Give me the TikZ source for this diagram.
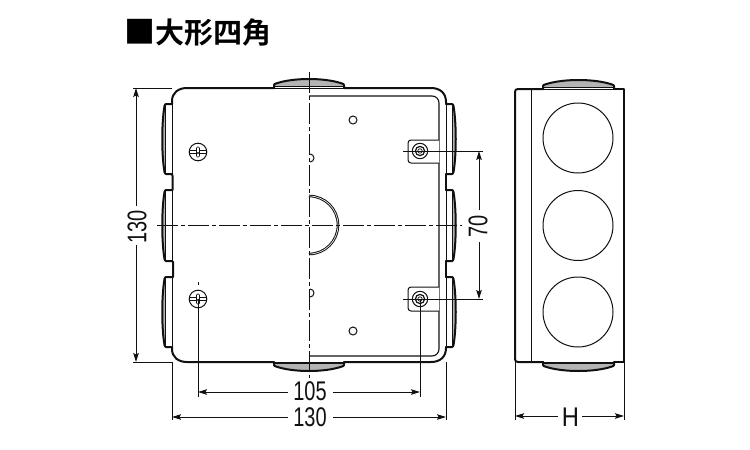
\documentclass[tikz,border=0pt]{standalone}
\usepackage{fontspec}
\usetikzlibrary{arrows.meta}
\newfontfamily\cjkbold{Noto Sans CJK JP Bold}
\newfontfamily\numfont[FakeStretch=0.74]{Liberation Sans}
\newfontfamily\letterfont[FakeStretch=0.88]{Liberation Sans}
\definecolor{ink}{HTML}{111111}
\definecolor{lugband}{HTML}{B4B4B4}
\tikzset{
  wall/.style={line width=2pt,draw=ink,line cap=round,line join=round},
  thin line/.style={line width=1pt,draw=ink},
  fine/.style={line width=1pt,draw=ink},
  centre line/.style={line width=1pt,draw=ink,dash pattern=on 21pt off 3pt on 4pt off 3pt},
  dimline/.style={line width=1pt,draw=ink,-{Stealth[length=9pt,width=5.5pt,inset=1.5pt]}},
  extline/.style={line width=1pt,draw=ink},
  dimtext/.style={font=\numfont\fontsize{27}{27}\selectfont,text=ink,inner sep=0pt},
  titletext/.style={anchor=west,inner sep=0pt,text=black},
}
% lug: x, y of base centre, rotation, half length, end height, band height
\newcommand{\lug}[6]{%
  \begin{scope}[shift={(#1,#2)},rotate=#3]
    \fill[lugband] (-#4,0) -- (-#4,-#5) .. controls ({-0.45*#4},-10.5) and ({0.45*#4},-10.5) .. (#4,-#5) -- (#4,0) -- cycle;
    \fill[white] (-#4,0) rectangle (#4,-#6);
    \draw[thin line] (-#4+1,-#6) -- (#4-1,-#6);
    \draw[wall,fill=none] (-#4,0) -- (-#4,{-#5+1}) .. controls (-#4,-#5) and (-#4+1,-#5) .. (-#4+2,{-#5-0.5}) .. controls ({-0.45*#4},-10.5) and ({0.45*#4},-10.5) .. (#4-2,{-#5-0.5}) .. controls (#4-1,-#5) and (#4,-#5) .. (#4,{-#5+1}) -- (#4,0);
  \end{scope}}
\newcommand{\screw}[2]{%
  \begin{scope}[shift={(#1,#2)}]
    \draw[thin line,fill=white] (0,0) circle[radius=8.8pt];
    \draw[fine,line width=0.7pt] (-8.5,-1.2) -- (-1.5,-1.2) (1.5,-1.2) -- (8.5,-1.2) (-8.5,1.2) -- (-1.5,1.2) (1.5,1.2) -- (8.5,1.2);
    \draw[fine,line width=0.7pt,rounded corners=1pt] (-1.5,-5) rectangle (1.5,5);
    \fill[ink] (0,1) circle[radius=1.1pt];
  \end{scope}}
\newcommand{\anchorhole}[2]{%
  \begin{scope}[shift={(#1,#2)}]
    \draw[thin line] (0,0) circle[radius=7.7pt];
    \draw[line width=1.2pt,draw=ink] (0,0) circle[radius=4.6pt];
    \draw[line width=0.7pt,draw=ink] (0,0) circle[radius=2.2pt];
  \end{scope}}
\begin{document}
\begin{tikzpicture}[x=1pt,y=-1pt]
\useasboundingbox (0,0) rectangle (750,450);
\fill[white] (0,0) rectangle (750,450);

% ---- title
\node[titletext,font=\cjkbold] (title) at (124,33) {\fontsize{31}{31}\selectfont ■\fontsize{29}{29}\selectfont 大形四角};

% ---- plan view: lugs
\lug{309}{88}{0}{35}{4}{1.5}
\lug{309}{362}{180}{35}{4}{1.5}
\lug{172}{139}{90}{35}{7}{6.5}
\lug{172}{225.5}{90}{35.5}{7}{6.5}
\lug{172}{312}{90}{35}{7}{6.5}
\lug{446}{139}{-90}{35}{7}{6.5}
\lug{446}{225.5}{-90}{35.5}{7}{6.5}
\lug{446}{312}{-90}{35}{7}{6.5}

% ---- plan view: walls
\draw[thin line] (172,104) -- (172,347) (446,104) -- (446,347) (274,88) -- (344,88) (274,362) -- (344,362);
\draw[wall] (172,104) -- (172,101) .. controls (172,93) and (178,88) .. (187,88) -- (274,88);
\draw[wall] (344,88) -- (431,88) .. controls (440,88) and (446,93) .. (446,102) -- (446,104);
\draw[wall] (172,347) -- (172,349) .. controls (172,357) and (178,362) .. (187,362) -- (274,362);
\draw[wall] (344,362) -- (431,362) .. controls (440,362) and (446,357) .. (446,348) -- (446,347);
\draw[wall] (172,174) -- (172.5,176) -- (172.5,190);
\draw[wall] (172,261) -- (173,262) -- (173,277);
\draw[wall] (446,174) -- (446,190) (446,261) -- (446,277);

% ---- plan view: inner opening, right half
\draw[line width=1.1pt,draw=ink,rounded corners=7pt] (309,96) -- (439,96) -- (439,356) -- (309,356);

% brackets
\draw[thin line,fill=white,rounded corners=3pt] (439,140) -- (408,140) -- (408,163) -- (439,163);
\draw[thin line,fill=white,rounded corners=3pt] (439,287) -- (408,287) -- (408,311) -- (439,311);
\anchorhole{420}{151}
\anchorhole{420}{299}

% holes
\draw[thin line] (353,120) circle[radius=4pt];
\draw[thin line] (353,331) circle[radius=4pt];
\draw[fine] (310,154) arc[start angle=90,end angle=-90,radius=4pt];
\draw[fine] (310,289) arc[start angle=90,end angle=-90,radius=4pt];

% central knockout
\draw[line width=2.6pt,draw=ink] (309,196) arc[start angle=90,end angle=-90,radius=29pt];
\draw[line width=0.6pt,draw=white] (309,196) arc[start angle=90,end angle=-90,radius=29pt];

% screws
\screw{198}{152}
\screw{198}{299}

% centre lines
\draw[centre line] (309,72) -- (309,378);
\draw[centre line] (157,225) -- (462,225);
\draw[centre line,dash pattern=on 3pt off 3pt] (198,282) -- (198,288);

% ---- side view
\lug{578.5}{89}{0}{35.5}{4}{1.5}
\lug{578.5}{362}{180}{35.5}{4}{1.5}
\draw[thin line] (543,89) -- (614,89) (543,362) -- (614,362) (531,89) -- (531,362);
\draw[wall] (543,89) -- (518,89) .. controls (516,89) and (515,90) .. (515,92) -- (515,359) .. controls (515,361) and (516,362) .. (518,362) -- (543,362);
\draw[wall] (614,89) -- (624,89) -- (624,362) -- (614,362);
\draw[thin line] (578,138) circle[radius=35pt];
\draw[thin line] (578,225.5) circle[radius=35pt];
\draw[thin line] (578,312) circle[radius=35pt];

% ---- dimension texts
\node[dimtext,rotate=90] (d130v) at (137,227) {130};
\node[dimtext,rotate=90] (d70) at (478,226) {70};
\node[dimtext] (d105) at (310,391.5) {105};
\node[dimtext] (d130h) at (310,417) {130};
\node[dimtext,font=\letterfont\fontsize{27}{27}\selectfont] (dH) at (570.5,417) {H};

% ---- dimension end points
\coordinate (vtop) at (136,88);
\coordinate (vbot) at (136,362);
\coordinate (stop) at (479,151);
\coordinate (sbot) at (479,299);
\coordinate (l105) at (198,392);
\coordinate (r105) at (420,392);
\coordinate (l130) at (172,417);
\coordinate (r130) at (446,417);
\coordinate (lH) at (515,416);
\coordinate (rH) at (624,416);

% ---- extension lines
\draw[extline] (133,88) -- (172,88) (133,362) -- (172,362);
\draw[extline] (403,151) -- (483,151) (403,299) -- (483,299);
\draw[extline] (198,299) -- (198,397) (420,299) -- (420,397);
\draw[extline] (172,362) -- (172,420) (446,362) -- (446,420);
\draw[extline] (515,362) -- (515,420) (624,362) -- (624,420);

% ---- dimension lines
\draw[dimline] (136,206) -- (vtop);
\draw[dimline] (136,245) -- (vbot);
\draw[dimline] (479,210) -- (stop);
\draw[dimline] (479,242) -- (sbot);
\draw[dimline] (288,392) -- (l105);
\draw[dimline] (333,392) -- (r105);
\draw[dimline] (288,417) -- (l130);
\draw[dimline] (333,417) -- (r130);
\draw[dimline] (558,416) -- (lH);
\draw[dimline] (582,416) -- (rH);
\end{tikzpicture}
\end{document}
